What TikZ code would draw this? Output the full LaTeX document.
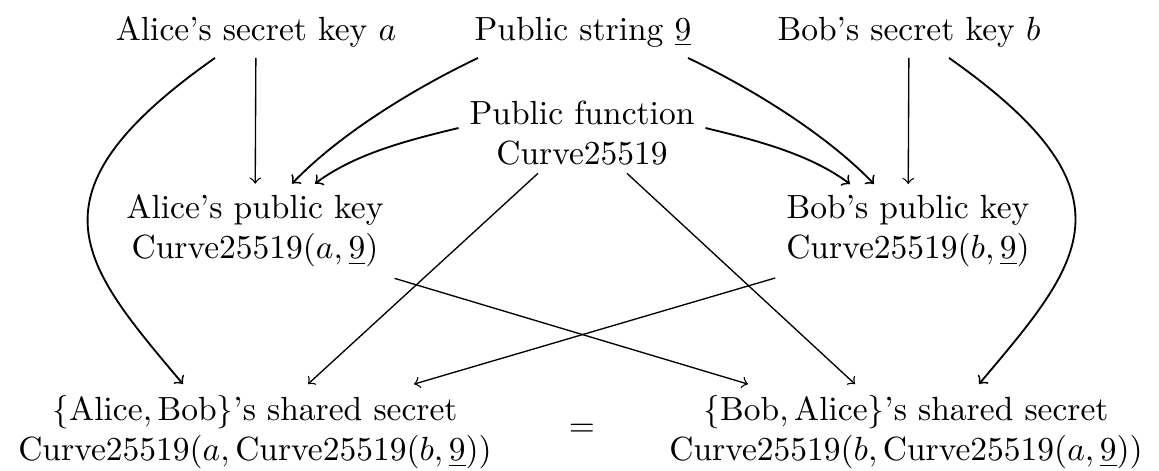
\documentclass[tikz,border=0pt]{standalone}
\usetikzlibrary{calc}
\begin{document}
\begin{tikzpicture}[x=0.2985pt, y=-0.2985pt, >={To[scale=1.2]},
    every node/.style={inner sep=3.3pt, outer sep=0pt, align=center},
    link/.style={->, line width=0.4pt},
    bow/.style={->, line width=0.55pt}]
    \useasboundingbox (0,0) rectangle (1159,470);

    % Kunci rahasia dan data publik
    \node[anchor=base] (asec) at (256,40) {Alice's secret key $a$};
    \node[anchor=base] (str9) at (583,40) {Public string $\underline{9}$};
    \node[anchor=base] (bsec) at (909,40) {Bob's secret key $b$};
    \node (func) at (582,133) {Public function\\Curve25519};

    % Kunci publik
    \node (apub) at (255,231) {Alice's public key\\Curve25519$(a,\underline{9})$};
    \node (bpub) at (908,231) {Bob's public key\\Curve25519$(b,\underline{9})$};

    % Rahasia bersama
    \node (ashared) at (255,432) {$\{\mathrm{Alice},\mathrm{Bob}\}$'s shared secret\\Curve25519$(a,\mathrm{Curve25519}(b,\underline{9}))$};
    \node (bshared) at (906,432) {$\{\mathrm{Bob},\mathrm{Alice}\}$'s shared secret\\Curve25519$(b,\mathrm{Curve25519}(a,\underline{9}))$};
    \node (eq) at (582,430) {$=$};

    % Sisi Alice
    \draw[link] (asec) -- (apub);
    \draw[bow] ($(asec.south)+(-41,0)$) .. controls +(-195,137) and +(-101,-120) .. ($(ashared.north)+(-72,0)$);
    \draw[bow] ($(str9.south)+(-105,0)$) .. controls +(-63,30) and +(48,-50) .. ($(apub.north)+(37,0)$);
    \draw[bow] ($(func.west)+(0,-5)$) .. controls +(-50,12) and +(40,-30) .. ($(apub.north)+(60,0)$);

    % Sisi Bob
    \draw[link] (bsec) -- (bpub);
    \draw[bow] ($(bsec.south)+(40,0)$) .. controls +(195,137) and +(101,-120) .. ($(bshared.north)+(73,0)$);
    \draw[bow] ($(str9.south)+(105,0)$) .. controls +(63,30) and +(-48,-50) .. ($(bpub.north)+(-34,0)$);
    \draw[bow] ($(func.east)+(0,-5)$) .. controls +(50,12) and +(-40,-30) .. ($(bpub.north)+(-58,0)$);

    % Garis silang
    \draw[link] ($(func.south)+(-44,-3)$) -- ($(ashared.north)+(53,0)$);
    \draw[link] ($(func.south)+(45,-3)$) -- ($(bshared.north)+(-51,0)$);
    \draw[link] (apub.south east) -- ($(bshared.north)+(-158,0)$);
    \draw[link] (bpub.south west) -- ($(ashared.north)+(159,0)$);
\end{tikzpicture}
\end{document}
